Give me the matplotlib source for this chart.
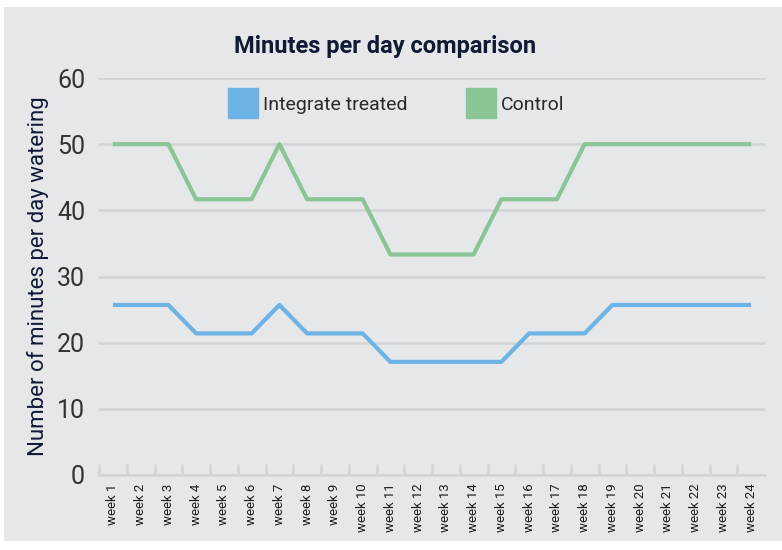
import matplotlib
matplotlib.use("Agg")
import matplotlib.pyplot as plt
from matplotlib.lines import Line2D
from matplotlib.patches import Rectangle

weeks = [f"week {i}" for i in range(1, 25)]
integrate_treated = [25.7, 25.7, 25.7, 21.4, 21.4, 21.4, 25.7, 21.4, 21.4, 21.4,
                     17.1, 17.1, 17.1, 17.1, 17.1, 21.4, 21.4, 21.4,
                     25.7, 25.7, 25.7, 25.7, 25.7, 25.7]
control = [50, 50, 50, 41.67, 41.67, 41.67, 50, 41.67, 41.67, 41.67,
           33.33, 33.33, 33.33, 33.33, 41.67, 41.67, 41.67,
           50, 50, 50, 50, 50, 50, 50]
series_names = ["Integrate treated", "Control"]
y_ticks = [0, 10, 20, 30, 40, 50, 60]

BG = "#e6e7e9"
BLUE = "#6db3e5"
GREEN = "#8ac596"
NAVY = "#0f1a35"
GRID = "#d2d3d5"

plt.rcParams['font.family'] = ['Roboto', 'DejaVu Sans']

fig = plt.figure(figsize=(7.82, 5.5), dpi=100)
fig.patch.set_facecolor("white")
fig.patches.append(Rectangle((4/782, 9/550), 778/782, (542-8)/550,
                             transform=fig.transFigure, facecolor=BG,
                             edgecolor="none", zorder=-10))

ax = fig.add_axes([99/782, (550-475)/550, (765-99)/782, (475-78)/550])
ax.set_facecolor("none")

x = list(range(1, len(weeks) + 1))
ax.plot(x, integrate_treated, color=BLUE, lw=3, solid_capstyle="butt", zorder=3)
ax.plot(x, control, color=GREEN, lw=3, solid_capstyle="butt", zorder=3)

ax.set_xlim(0.5, len(weeks) + 0.5)
ax.set_ylim(0, 60)
ax.set_yticks(y_ticks)
ax.set_yticklabels([str(v) for v in y_ticks], fontsize=18, color="#333333")
ax.yaxis.grid(True, color=GRID, lw=1.8)
ax.set_axisbelow(True)
ax.tick_params(axis="y", length=0, pad=10)

ax.set_xticks(x)
ax.set_xticklabels(weeks, rotation=90, fontsize=9.5, color="#1e1e1e")
ax.tick_params(axis="x", which="major", length=0, pad=6)
ax.set_xticks([i + 0.5 for i in range(0, len(weeks))], minor=True)
ax.tick_params(axis="x", which="minor", length=8, direction="in", color=GRID, width=1.8)

for s in ["top", "right", "left"]:
    ax.spines[s].set_visible(False)
ax.spines["bottom"].set_color(GRID)
ax.spines["bottom"].set_linewidth(1.8)

ax.set_ylabel("Number of minutes per day watering", fontsize=16, color=NAVY, labelpad=6)

fig.text(385/782, 1 - 47/550, "Minutes per day comparison", ha="center", va="center",
         fontsize=17, fontweight="bold", color=NAVY)

handles = [Line2D([], [], marker="s", ls="none", markersize=22, color=BLUE),
           Line2D([], [], marker="s", ls="none", markersize=22, color=GREEN)]
leg = fig.legend(handles, series_names, loc="center", bbox_to_anchor=(398/782, 1 - 105/550),
                 ncol=2, frameon=False, fontsize=14, handletextpad=0.4,
                 columnspacing=3.2, handlelength=1.2, labelcolor="#2a2a2a")

fig.savefig("out.png", dpi=100, facecolor="white")
